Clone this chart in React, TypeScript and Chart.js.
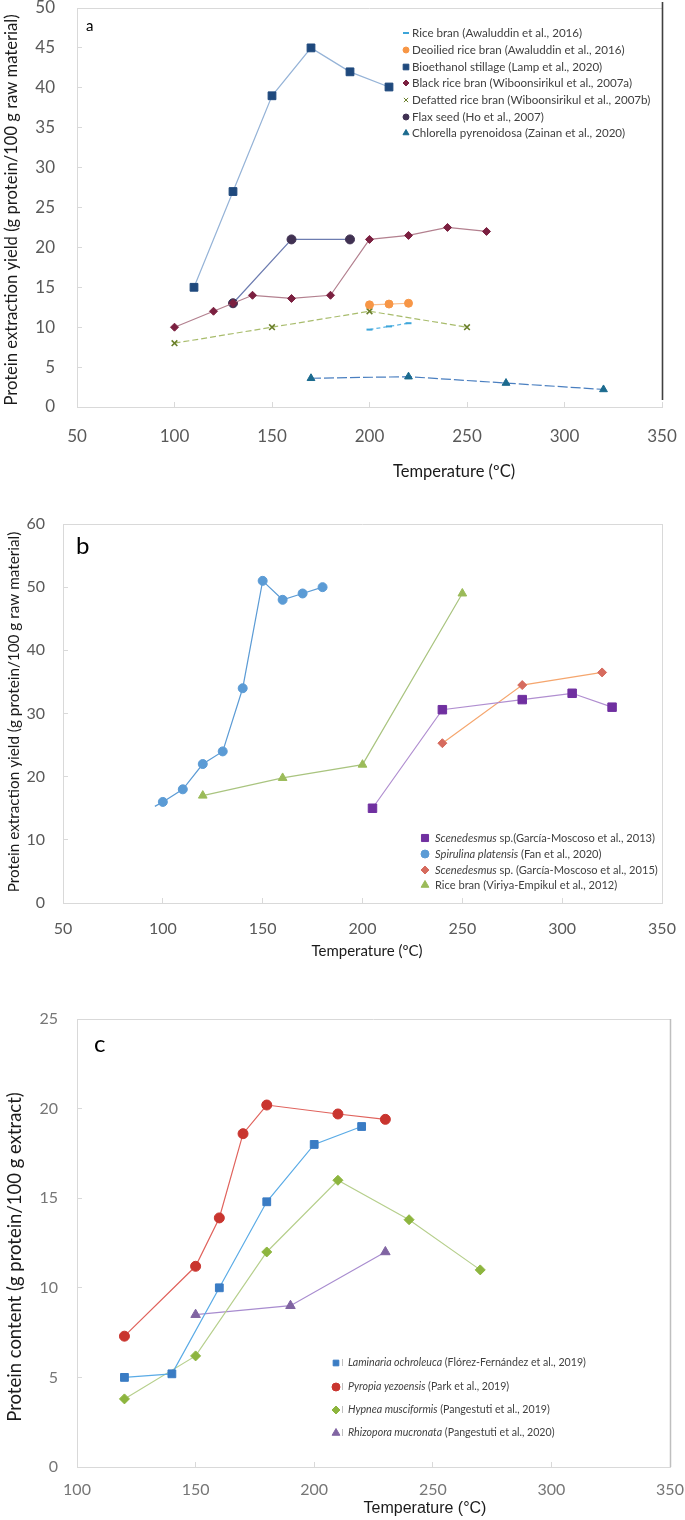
import React, { useEffect, useRef } from 'react';
import { Chart, registerables } from 'chart.js';
import { drawPoint } from 'chart.js/helpers';

Chart.register(...registerables);

const FONT = 'Lato, "Noto Sans", sans-serif';
const ARIAL = '"Liberation Sans", Arial, sans-serif';

// ---------- Panel a data ----------
const aXTicks = [50, 350, 50]; // min, max, step
const aYTicks = [0, 50, 5];
const aRiceBranT = [200, 210, 220];
const aRiceBranY = [9.7, 10.1, 10.5];
const aDeoiledT = [200, 210, 220];
const aDeoiledY = [12.8, 12.9, 13.0];
const aStillageT = [110, 130, 150, 170, 190, 210];
const aStillageY = [15, 27, 39, 45, 42, 40.1];
const aBlackT = [100, 120, 130, 140, 160, 180, 200, 220, 240, 260];
const aBlackY = [10, 12, 13, 14, 13.6, 14, 21, 21.5, 22.5, 22];
const aDefattedT = [100, 150, 200, 250];
const aDefattedY = [8, 10, 12, 10];
const aFlaxT = [130, 160, 190];
const aFlaxY = [13, 21, 21];
const aChlorellaT = [170, 220, 270, 320];
const aChlorellaY = [3.6, 3.8, 3.0, 2.2];

// ---------- Panel b data ----------
const bXTicks = [50, 350, 50];
const bYTicks = [0, 60, 10];
const bScen13T = [205, 240, 280, 305, 325];
const bScen13Y = [15, 30.6, 32.2, 33.2, 31];
const bSpirT = [96, 100, 110, 120, 130, 140, 150, 160, 170, 180];
const bSpirY = [15.3, 16, 18, 22, 24, 34, 51, 48, 49, 50];
const bScen15T = [240, 280, 320];
const bScen15Y = [25.3, 34.5, 36.5];
const bRiceT = [120, 160, 200, 250];
const bRiceY = [17, 19.8, 21.9, 49];

// ---------- Panel c data ----------
const cXTicks = [100, 350, 50];
const cYTicks = [0, 25, 5];
const cLamT = [120, 140, 160, 180, 200, 220];
const cLamY = [5, 5.2, 10, 14.8, 18, 19];
const cPyrT = [120, 150, 160, 170, 180, 210, 230];
const cPyrY = [7.3, 11.2, 13.9, 18.6, 20.2, 19.7, 19.4];
const cHypT = [120, 150, 180, 210, 240, 270];
const cHypY = [3.8, 6.2, 12, 16, 13.8, 11];
const cRhiT = [150, 190, 230];
const cRhiY = [8.5, 9, 12];

type Seg = { t: string; i?: boolean };
type Series = {
  label: Seg[];
  t: number[];
  y: number[];
  marker: string;
  line: string;
  style: string;
  r: number;
  lr: number;
  dash?: number[];
  hideFirst?: boolean;
};

const panelA = {
  top: 0, height: 490, left: 77, right: 662, plotTop: 8, plotBottom: 407,
  xT: aXTicks, yT: aYTicks,
  tickFont: 17, tickColor: '#595959', xPad: 24, yPad: 27,
  frame: [
    { side: 'top', color: '#D9D9D9', width: 1, i0: 0, i1: 0 },
    { side: 'right', color: '#404040', width: 1.6, i0: -6, i1: 7 },
  ],
  tag: { text: 'a', x: 86, y: 26, size: 15 },
  xTitle: { text: 'Temperature (ºC)', x: 454, y: 472, size: 16.5, family: FONT, color: '#1a1a1a' },
  yTitle: { text: 'Protein extraction yield (g protein/100 g raw material)', x: 12, y: 210, size: 16.6, family: FONT, color: '#1a1a1a' },
  legend: { mx: 406, tx: 412, rows: [33, 50, 67, 83, 100, 117, 133], size: 11.6, color: '#404040', tick: false },
  series: [
    { label: [{ t: 'Rice bran (Awaluddin et al., 2016)' }], t: aRiceBranT, y: aRiceBranY, marker: '#3DA5D9', line: '#5BB5E5', style: 'line', r: 3, lr: 3, dash: [4, 3] },
    { label: [{ t: 'Deoilied rice bran (Awaluddin et al., 2016)' }], t: aDeoiledT, y: aDeoiledY, marker: '#F79646', line: '#FAC08F', style: 'circle', r: 4, lr: 3 },
    { label: [{ t: 'Bioethanol stillage (Lamp et al., 2020)' }], t: aStillageT, y: aStillageY, marker: '#1F497D', line: '#95B3D7', style: 'rect', r: 5.5, lr: 4 },
    { label: [{ t: 'Black rice bran (Wiboonsirikul et al., 2007a)' }], t: aBlackT, y: aBlackY, marker: '#7B2040', line: '#B3808F', style: 'rectRot', r: 4, lr: 3 },
    { label: [{ t: 'Defatted rice bran (Wiboonsirikul et al., 2007b)' }], t: aDefattedT, y: aDefattedY, marker: '#6A7F2A', line: '#A8BC6C', style: 'crossRot', r: 4, lr: 3, dash: [6, 3] },
    { label: [{ t: 'Flax seed (Ho et al., 2007)' }], t: aFlaxT, y: aFlaxY, marker: '#403152', line: '#6D7CB0', style: 'circle', r: 4.5, lr: 3 },
    { label: [{ t: 'Chlorella pyrenoidosa (Zainan et al., 2020)' }], t: aChlorellaT, y: aChlorellaY, marker: '#1B6A8E', line: '#4A7FC0', style: 'triangle', r: 4.5, lr: 3.5, dash: [10, 3] },
  ] as Series[],
};

const panelB = {
  top: 490, height: 470, left: 63, right: 662, plotTop: 34, plotBottom: 413,
  xT: bXTicks, yT: bYTicks,
  tickFont: 16, tickColor: '#595959', xPad: 21, yPad: 23,
  frame: [
    { side: 'top', color: '#D9D9D9', width: 1, i0: 0, i1: 0 },
    { side: 'right', color: '#D9D9D9', width: 1, i0: 0, i1: 0 },
  ],
  tag: { text: 'b', x: 76, y: 56, size: 24 },
  xTitle: { text: 'Temperature (ºC)', x: 367, y: 461, size: 15, family: FONT, color: '#1a1a1a' },
  yTitle: { text: 'Protein extraction yield (g protein/100 g raw material)', x: 14, y: 222, size: 15.3, family: FONT, color: '#1a1a1a' },
  legend: { mx: 425, tx: 435, rows: [348, 364, 380, 395], size: 11.1, color: '#404040', tick: false },
  series: [
    { label: [{ t: 'Scenedesmus', i: true }, { t: ' sp.(García-Moscoso et al., 2013)' }], t: bScen13T, y: bScen13Y, marker: '#7030A0', line: '#B08ED0', style: 'rect', r: 6, lr: 5 },
    { label: [{ t: 'Spirulina platensis', i: true }, { t: ' (Fan et al., 2020)' }], t: bSpirT, y: bSpirY, marker: '#5B9BD5', line: '#5B9BD5', style: 'circle', r: 4.5, lr: 4, hideFirst: true },
    { label: [{ t: 'Scenedesmus', i: true }, { t: ' sp. (García-Moscoso et al., 2015)' }], t: bScen15T, y: bScen15Y, marker: '#D66B5E', line: '#F5A66E', style: 'rectRot', r: 4.5, lr: 4 },
    { label: [{ t: 'Rice bran (Viriya-Empikul et al., 2012)' }], t: bRiceT, y: bRiceY, marker: '#9BBB59', line: '#A9C47F', style: 'triangle', r: 5, lr: 4.5 },
  ] as Series[],
};

const panelC = {
  top: 960, height: 560, left: 77, right: 670, plotTop: 59, plotBottom: 507,
  xT: cXTicks, yT: cYTicks,
  tickFont: 16, tickColor: '#767676', xPad: 18, yPad: 24,
  frame: [
    { side: 'top', color: '#D9D9D9', width: 1, i0: 0, i1: 0 },
    { side: 'right', color: '#BFBFBF', width: 1.5, i0: 0, i1: 0 },
  ],
  tag: { text: 'c', x: 94, y: 84, size: 24 },
  xTitle: { text: 'Temperature (°C)', x: 425, y: 549, size: 16, family: ARIAL, color: '#1a1a1a' },
  yTitle: { text: 'Protein content (g protein/100 g extract)', x: 15, y: 297, size: 18.5, family: FONT, color: '#1a1a1a' },
  legend: { mx: 336, tx: 348, rows: [403, 427, 450, 473], size: 10.6, color: '#404040', tick: true },
  series: [
    { label: [{ t: 'Laminaria ochroleuca', i: true }, { t: ' (Flórez-Fernández et al., 2019)' }], t: cLamT, y: cLamY, marker: '#3A7CC4', line: '#5AABE6', style: 'rect', r: 5.5, lr: 4 },
    { label: [{ t: 'Pyropia yezoensis', i: true }, { t: ' (Park et al., 2019)' }], t: cPyrT, y: cPyrY, marker: '#C9352F', line: '#E0625C', style: 'circle', r: 5, lr: 4 },
    { label: [{ t: 'Hypnea musciformis', i: true }, { t: ' (Pangestuti et al., 2019)' }], t: cHypT, y: cHypY, marker: '#8DB53E', line: '#B6CF8C', style: 'rectRot', r: 5, lr: 4 },
    { label: [{ t: 'Rhizopora mucronata', i: true }, { t: ' (Pangestuti et al., 2020)' }], t: cRhiT, y: cRhiY, marker: '#8064A2', line: '#A88CCF', style: 'triangle', r: 5.5, lr: 4.5 },
  ] as Series[],
};

function makeDecor(cfg: any) {
  return {
    id: 'decor',
    afterDraw(chart: any) {
      const ctx = chart.ctx as CanvasRenderingContext2D;
      const ca = chart.chartArea;
      ctx.save();
      cfg.frame.forEach((f: any) => {
        ctx.beginPath();
        ctx.strokeStyle = f.color;
        ctx.lineWidth = f.width;
        if (f.side === 'top') {
          ctx.moveTo(ca.left, ca.top + 0.5);
          ctx.lineTo(ca.right, ca.top + 0.5);
        } else {
          ctx.moveTo(ca.right + 0.5, ca.top + f.i0);
          ctx.lineTo(ca.right + 0.5, ca.bottom - f.i1);
        }
        ctx.stroke();
      });
      // panel tag
      ctx.fillStyle = '#000';
      ctx.textAlign = 'left';
      ctx.textBaseline = 'middle';
      ctx.font = `${cfg.tag.size}px ${FONT}`;
      ctx.fillText(cfg.tag.text, cfg.tag.x, cfg.tag.y);
      // x title
      const xt = cfg.xTitle;
      ctx.font = `${xt.size}px ${xt.family}`;
      ctx.fillStyle = xt.color;
      ctx.textAlign = 'center';
      ctx.fillText(xt.text, xt.x, xt.y);
      // y title
      const yt = cfg.yTitle;
      ctx.save();
      ctx.translate(yt.x, yt.y);
      ctx.rotate(-Math.PI / 2);
      ctx.font = `${yt.size}px ${yt.family}`;
      ctx.fillStyle = yt.color;
      ctx.textAlign = 'center';
      ctx.fillText(yt.text, 0, 0);
      ctx.restore();
      // legend
      const lg = cfg.legend;
      cfg.series.forEach((s: Series, i: number) => {
        const y = lg.rows[i];
        ctx.fillStyle = s.marker;
        ctx.strokeStyle = s.marker;
        ctx.lineWidth = s.style === 'line' ? 2 : 1;
        drawPoint(ctx, { pointStyle: s.style as any, radius: s.lr, borderWidth: s.style === 'line' ? 2 : 1, rotation: 0 } as any, lg.mx, y);
        if (lg.tick) {
          ctx.beginPath();
          ctx.strokeStyle = '#BFBFBF';
          ctx.lineWidth = 1;
          ctx.moveTo(lg.mx + 6.5, y - 4);
          ctx.lineTo(lg.mx + 6.5, y + 3);
          ctx.stroke();
        }
        let x = lg.tx;
        ctx.fillStyle = lg.color;
        ctx.textAlign = 'left';
        ctx.textBaseline = 'middle';
        s.label.forEach((seg) => {
          ctx.font = `${seg.i ? 'italic ' : ''}${lg.size}px ${FONT}`;
          ctx.fillText(seg.t, x, y);
          x += ctx.measureText(seg.t).width;
        });
      });
      ctx.restore();
    },
  };
}

function Panel({ cfg }: { cfg: any }) {
  const ref = useRef<HTMLCanvasElement>(null);
  useEffect(() => {
    const canvas = ref.current!;
    const xH = cfg.height - cfg.plotBottom;
    const scaleCommon = {
      grid: { drawOnChartArea: false, drawTicks: true, tickLength: -5, color: '#D9D9D9', lineWidth: 1 },
      border: { color: '#D9D9D9', width: 1 },
    };
    const chart = new Chart(canvas, {
      type: 'scatter',
      data: {
        datasets: cfg.series.map((s: Series) => ({
          label: s.label.map((g) => g.t).join(''),
          data: s.t.map((x, i) => ({ x, y: s.y[i] })),
          showLine: true,
          borderColor: s.line,
          borderWidth: 1.2,
          borderDash: s.dash ?? [],
          backgroundColor: s.marker,
          pointStyle: s.style,
          pointRadius: s.t.map((_, i) => (s.hideFirst && i === 0 ? 0 : s.r)),
          pointHoverRadius: s.r,
          pointBackgroundColor: s.marker,
          pointBorderColor: s.marker,
          pointBorderWidth: s.style === 'line' ? 2 : s.style === 'crossRot' ? 1.6 : 1,
          tension: 0,
        })),
      },
      options: {
        responsive: false,
        animation: false,
        devicePixelRatio: 1,
        events: [],
        layout: { autoPadding: false, padding: { top: cfg.plotTop, right: 685 - cfg.right, left: 0, bottom: 0 } },
        plugins: { legend: { display: false }, tooltip: { enabled: false } },
        scales: {
          x: {
            type: 'linear',
            min: cfg.xT[0],
            max: cfg.xT[1],
            ...scaleCommon,
            ticks: { stepSize: cfg.xT[2], padding: cfg.xPad, font: { family: FONT, size: cfg.tickFont }, color: cfg.tickColor, maxRotation: 0 },
            afterFit: (s: any) => {
              s.height = xH;
              s.paddingLeft = 0;
              s.paddingRight = 0;
            },
          },
          y: {
            type: 'linear',
            min: cfg.yT[0],
            max: cfg.yT[1],
            ...scaleCommon,
            ticks: { stepSize: cfg.yT[2], padding: cfg.yPad, font: { family: FONT, size: cfg.tickFont }, color: cfg.tickColor },
            afterFit: (s: any) => {
              s.width = cfg.left;
              s.paddingTop = 0;
              s.paddingBottom = 0;
            },
          },
        },
      } as any,
      plugins: [makeDecor(cfg)],
    });
    return () => chart.destroy();
  }, [cfg]);
  return (
    <canvas
      ref={ref}
      width={685}
      height={cfg.height}
      style={{ position: 'absolute', left: 0, top: cfg.top, width: 685, height: cfg.height, display: 'block' }}
    />
  );
}

export default function App() {
  return (
    <div style={{ position: 'absolute', left: 0, top: 0, width: 685, height: 1520, overflow: 'hidden', background: '#fff' }}>
      <Panel cfg={panelA} />
      <Panel cfg={panelB} />
      <Panel cfg={panelC} />
    </div>
  );
}
